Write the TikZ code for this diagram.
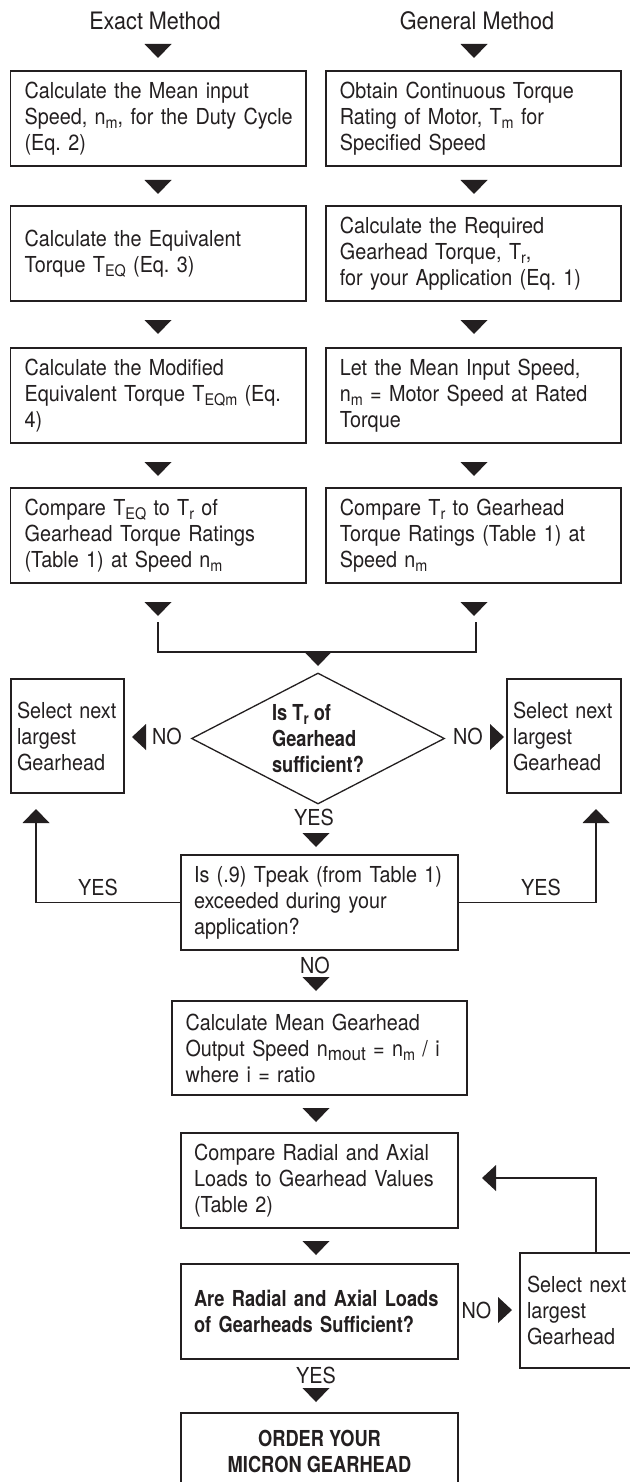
\documentclass[tikz,border=0pt]{standalone}
\usepackage{fontspec}
\setmainfont{texgyreheros-regular.otf}[FakeStretch=0.9]
\newfontfamily\bcn{texgyreheros-bold.otf}[FakeStretch=0.83]
\usetikzlibrary{shapes.geometric}
\definecolor{ink}{RGB}{35,31,32}
\newcommand{\sbs}[1]{\raisebox{-4.5pt}{\fontsize{16}{16}\selectfont #1}}
\begin{document}
\begin{tikzpicture}[x=1pt,y=-1pt,
  every node/.style={text=ink},
  txt/.style={font=\fontsize{22}{26}\selectfont},
  flowbox/.style={draw=ink, line width=1.4pt, rectangle, inner ysep=0pt, align=left, txt,
    execute at begin node={\hyphenpenalty=10000\exhyphenpenalty=10000\lefthyphenmin=64\relax}},
  wbox/.style={flowbox, minimum width=295.3pt, text width=267.3pt, inner xsep=14pt, minimum height=95pt},
  nbox/.style={flowbox, minimum width=277pt, text width=251pt, inner xsep=13pt, minimum height=95pt},
  selbox/.style={flowbox, minimum height=114pt},
  lbl/.style={txt, anchor=base, inner sep=0pt},
  conn/.style={draw=ink, line width=1.3pt},
  tdn/.pic={\fill[ink] (-13.5,0) -- (13.5,0) -- (0,14) -- cycle;},
  tup/.pic={\fill[ink] (-13.5,0) -- (13.5,0) -- (0,-14) -- cycle;},
  tlf/.pic={\fill[ink] (0,-13) -- (0,13) -- (-14,0) -- cycle;},
  trt/.pic={\fill[ink] (0,-13) -- (0,13) -- (14,0) -- cycle;}
]
\useasboundingbox (0,0) rectangle (629,1482);
\fill[white] (0,0) rectangle (629,1482);

% titles
\node[lbl, font=\fontsize{24}{28}\selectfont] (hE) at (155,29.3) {Exact Method};
\node[lbl, font=\fontsize{24}{28}\selectfont] (hG) at (477,29.3) {General Method};
\pic at (158,44) {tdn};
\pic at (474,44) {tdn};

% left column
\node[wbox] (L1) at (158.3,118.5) {Calculate~the~Mean~input\\Speed,~n\sbs{m},~for~the~Duty~Cycle\\(Eq.~2)};
\pic at (158,180) {tdn};
\node[wbox] (L2) at (158.3,253.5) {Calculate~the~Equivalent\\Torque~T\sbs{EQ}~(Eq.~3)};
\pic at (158,320) {tdn};
\node[wbox] (L3) at (158.3,395.5) {Calculate~the~Modified\\Equivalent~Torque~T\sbs{EQm}~(Eq.\\4)};
\pic at (158,462) {tdn};
\node[wbox] (L4) at (158.3,535.5) {Compare~T\sbs{EQ}~to~T\sbs{r}~of\\Gearhead~Torque~Ratings\\(Table~1)~at~Speed~n\sbs{m}};
\pic at (158,602) {tdn};

% right column
\node[wbox] (R1) at (473.5,118.5) {Obtain~Continuous~Torque\\Rating~of~Motor,~T\sbs{m}~for\\Specified~Speed};
\pic at (474,180) {tdn};
\node[wbox] (R2) at (473.5,253.5) {Calculate~the~Required\\Gearhead~Torque,~T\sbs{r},\\for~your~Application~(Eq.~1)};
\pic at (474,320) {tdn};
\node[wbox] (R3) at (473.5,395.5) {Let~the~Mean~Input~Speed,\\n\sbs{m}~=~Motor~Speed~at~Rated\\Torque};
\pic at (474,462) {tdn};
\node[wbox] (R4) at (473.5,535.5) {Compare~T\sbs{r}~to~Gearhead\\Torque~Ratings~(Table~1)~at\\Speed~n\sbs{m}};
\pic at (474,602) {tdn};

% join
\coordinate (jL) at (158,622);
\coordinate (jR) at (476,622);
\draw[conn] (jL) -- (158,652) -- (476,652) -- (jR);
\pic at (318,652) {tdn};

% decision
\node[diamond, draw=ink, line width=1.3pt, minimum width=253pt, minimum height=131pt, aspect=1.93, inner sep=0pt, align=left, font=\bcn\fontsize{22}{26}\selectfont] (dia) at (318,738.5) {Is T\sbs{r} of\\Gearhead\\sufficient?};
\node[lbl] (noL) at (167,744) {NO};
\node[lbl] (noR) at (468,744) {NO};
\pic at (146,737) {tlf};
\pic at (490,737) {trt};
\node[selbox, minimum width=113pt, text width=101pt, inner xsep=6pt] (sL) at (67.5,736) {Select~next\\largest\\Gearhead};
\node[selbox, minimum width=114pt, text width=102pt, inner xsep=6pt] (sR) at (564,736) {Select~next\\largest\\Gearhead};

\node[lbl] (yes1) at (314,825) {YES};
\pic at (316,833) {tdn};

% peak check
\node[nbox] (tp) at (319.5,902.5) {Is~(.9)~Tpeak~(from~Table~1)\\exceeded~during~your\\application?};
\coordinate (upL) at (36,823);
\coordinate (upR) at (596,823);
\draw[conn] (tp.west) -| (upL);
\draw[conn] (tp.east) -| (upR);
\pic at (upL) {tup};
\pic at (upR) {tup};
\node[lbl] (yesL) at (98,895) {YES};
\node[lbl] (yesR) at (541,895) {YES};

\node[lbl] (no2) at (315,973) {NO};
\pic at (316,977) {tdn};

\node[flowbox, minimum width=295pt, text width=268pt, inner xsep=13.5pt, minimum height=94pt] (mg) at (319.5,1048) {Calculate~Mean~Gearhead\\Output~Speed~n\raisebox{-4pt}{\fontsize{19}{19}\selectfont mout}~=~n\sbs{m}~/~i\\where~i~=~ratio};
\pic at (316,1108) {tdn};

\node[nbox] (cr) at (319.5,1180.5) {Compare~Radial~and~Axial\\Loads~to~Gearhead~Values\\(Table~2)};
\pic at (316,1241) {tdn};

\node[nbox, font=\bcn\fontsize{22}{26}\selectfont] (ar) at (319.5,1311.5) {Are~Radial~and~Axial~Loads\\of~Gearheads~Sufficient?};
\node[lbl] (no3) at (476.5,1318) {NO};
\pic at (498,1310) {trt};
\node[selbox, minimum width=120pt, text width=106pt, inner xsep=7pt, minimum height=115pt] (sB) at (580,1310.5) {Select~next\\largest\\Gearhead};
\coordinate (fbx) at (596,0);
\coordinate (fbt) at (496,1178);
\draw[conn] (sB.north -| fbx) -- (596,1178) -- (fbt);
\pic at (fbt) {tlf};

\node[lbl] (yes2) at (316,1383) {YES};
\pic at (316,1388) {tdn};

\node[flowbox, minimum width=277pt, minimum height=77pt, align=center, font=\bcn\fontsize{22}{26}\selectfont] (od) at (319.5,1451.5) {ORDER YOUR\\MICRON GEARHEAD};
\end{tikzpicture}
\end{document}
